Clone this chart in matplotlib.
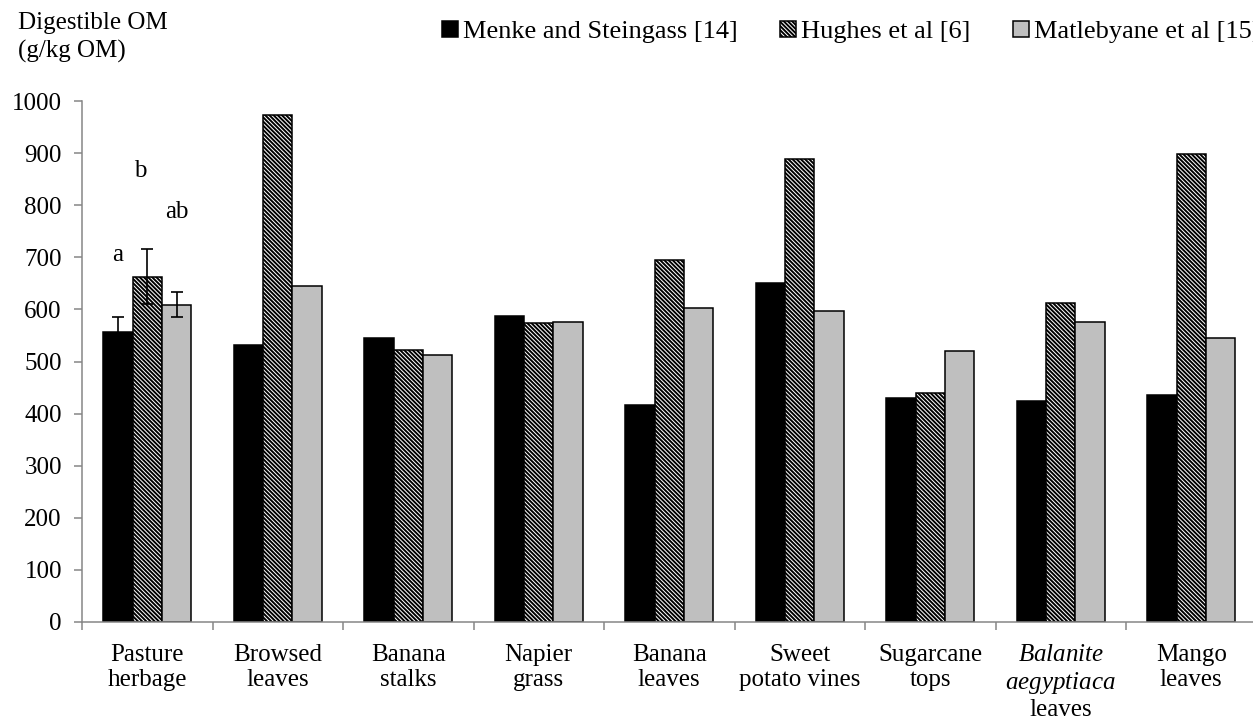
import numpy as np
import matplotlib
matplotlib.use("Agg")
import matplotlib.pyplot as plt

plt.rcParams['font.family'] = ['Liberation Serif', 'DejaVu Serif']
plt.rcParams['mathtext.fontset'] = 'custom'
plt.rcParams['mathtext.it'] = 'Liberation Serif:italic'
plt.rcParams['mathtext.rm'] = 'Liberation Serif'
plt.rcParams['hatch.linewidth'] = 1.4

# --- data ---
feeds = ["Pasture\nherbage", "Browsed\nleaves", "Banana\nstalks", "Napier\ngrass",
         "Banana\nleaves", "Sweet\npotato vines", "Sugarcane\ntops",
         "$\\mathit{Balanite}$\n$\\mathit{aegyptiaca}$\nleaves", "Mango\nleaves"]
series = ["Menke and Steingass [14]", "Hughes et al [6]", "Matlebyane et al [15]"]
menke = [556, 531, 545, 587, 417, 651, 430, 425, 435]
hughes = [663, 973, 522, 573, 695, 889, 440, 612, 899]
matlebyane = [609, 644, 513, 575, 602, 597, 520, 575, 545]
# error bars only for pasture herbage
pasture_err = [29, 53, 24]
sig_letters = ["a", "b", "ab"]
letter_y = [704, 866, 787]

grey = "#868686"
fig = plt.figure(figsize=(12.53, 7.23), dpi=100)
ax = fig.add_axes([82 / 1253, 1 - 622 / 723, 9 * 130.5 / 1253, 521 / 723])

x = np.arange(len(feeds))
w = 0.226
styles = [dict(color="black", edgecolor="black"),
          dict(color="white", edgecolor="black", hatch="\\" * 8),
          dict(color="#bfbfbf", edgecolor="black")]
for i, (vals, name) in enumerate(zip([menke, hughes, matlebyane], series)):
    pos = x + (i - 1) * w
    ax.bar(pos, vals, w, label=name, linewidth=1.1, **styles[i])
    ax.errorbar(pos[0], vals[0], yerr=pasture_err[i], color="black",
                capsize=4, elinewidth=1.2, capthick=1.2)
    dx = -0.05 if i == 1 else 0
    ax.text(pos[0] + dx, letter_y[i], sig_letters[i], ha="center", va="center", fontsize=18)

ax.set_xlim(-0.5, len(feeds) - 0.5)
ax.set_ylim(0, 1000)
ax.set_yticks(np.arange(0, 1001, 100))
ax.set_xticks(np.arange(-0.5, len(feeds), 1.0))
ax.set_xticklabels([])
ax.set_xticks(x, minor=True)
ax.set_xticklabels(feeds, minor=True, fontsize=18, linespacing=1.18)
ax.tick_params(axis="x", which="minor", length=0, pad=16)
ax.tick_params(axis="x", which="major", length=6, width=1.1, color=grey)
ax.tick_params(axis="y", length=6, width=1.1, color=grey, labelsize=18, pad=8.5)
for s in ["top", "right"]:
    ax.spines[s].set_visible(False)
for s in ["left", "bottom"]:
    ax.spines[s].set_color(grey)
    ax.spines[s].set_linewidth(1.1)

fig.text(18 / 1253, 1 - 12 / 723, "Digestible OM\n(g/kg OM)", ha="left", va="top",
         fontsize=18, linespacing=1.35)
fig.legend(loc="center left", bbox_to_anchor=(442 / 1253, 1 - 32 / 723), ncol=3,
           frameon=False, fontsize=19, handlelength=0.6, handleheight=0.6,
           handletextpad=0.2, columnspacing=1.6, borderpad=0, borderaxespad=0)

fig.savefig("out.png", dpi=100)
